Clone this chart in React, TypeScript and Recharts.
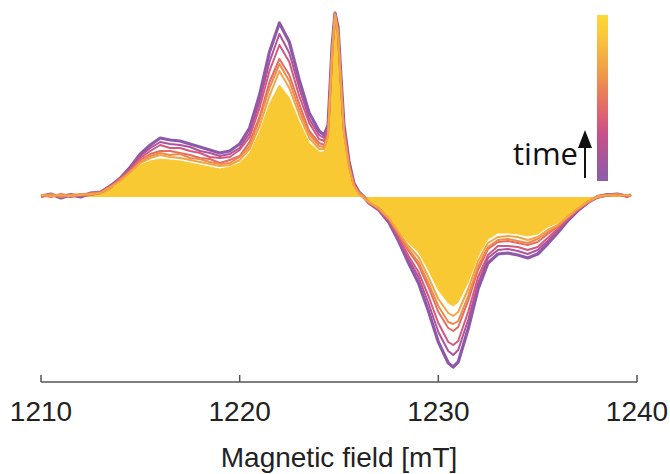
import React from 'react';
import { ComposedChart, Line, Area, XAxis, YAxis } from 'recharts';

// Field positions (mT) shared by every scan
const field = [
  1210, 1210.5, 1211, 1211.5, 1212, 1212.5, 1213, 1213.5, 1214, 1214.5,
  1215, 1215.5, 1216, 1216.5, 1217, 1217.5, 1218, 1218.5, 1219, 1219.5,
  1220, 1220.5, 1221, 1221.5, 1222, 1222.5, 1223, 1223.5, 1224, 1224.25,
  1224.45, 1224.65, 1224.8, 1224.95, 1225.1, 1225.25, 1225.5, 1225.75, 1226, 1226.25,
  1226.5, 1227, 1227.5, 1228, 1228.5, 1229, 1229.5, 1230, 1230.5, 1230.75,
  1231, 1231.5, 1232, 1232.5, 1233, 1233.5, 1234, 1234.5, 1235, 1235.5,
  1236, 1236.5, 1237, 1237.5, 1238, 1238.5, 1239, 1239.5, 1239.7,
];

// EPR signal, earliest scan first (a.u.)
const scan1 = [
  0.01, 0.03, -0.01, 0.02, 0.0, 0.04, 0.05, 0.11, 0.19, 0.3,
  0.43, 0.52, 0.59, 0.57, 0.56, 0.53, 0.5, 0.47, 0.44, 0.46,
  0.53, 0.69, 1.02, 1.45, 1.74, 1.55, 1.17, 0.84, 0.66, 0.62,
  0.72, 1.5, 1.84, 1.7, 1.2, 0.72, 0.36, 0.14, 0.05, 0.0,
  -0.06, -0.13, -0.25, -0.44, -0.66, -0.86, -1.14, -1.45, -1.66, -1.7,
  -1.65, -1.32, -0.92, -0.66, -0.57, -0.56, -0.58, -0.61, -0.57, -0.47,
  -0.36, -0.24, -0.14, -0.06, 0.0, 0.02, 0.03, 0.01, 0.02,
];
const scan2 = [
  0.02, 0.01, 0.02, 0.0, 0.02, 0.03, 0.05, 0.12, 0.18, 0.29,
  0.41, 0.49, 0.55, 0.53, 0.52, 0.5, 0.46, 0.44, 0.41, 0.43,
  0.49, 0.64, 0.95, 1.35, 1.63, 1.44, 1.09, 0.78, 0.62, 0.59,
  0.7, 1.48, 1.84, 1.69, 1.18, 0.7, 0.35, 0.14, 0.05, 0.01,
  -0.06, -0.12, -0.24, -0.42, -0.62, -0.8, -1.06, -1.35, -1.54, -1.58,
  -1.53, -1.23, -0.86, -0.61, -0.53, -0.52, -0.54, -0.57, -0.53, -0.44,
  -0.34, -0.23, -0.14, -0.06, 0.01, 0.03, 0.02, 0.02, 0.01,
];
const scan3 = [
  0.0, 0.02, 0.01, 0.03, 0.01, 0.02, 0.04, 0.1, 0.19, 0.27,
  0.39, 0.46, 0.52, 0.49, 0.49, 0.46, 0.44, 0.4, 0.39, 0.4,
  0.47, 0.6, 0.89, 1.26, 1.52, 1.35, 1.01, 0.74, 0.58, 0.56,
  0.68, 1.47, 1.83, 1.68, 1.16, 0.68, 0.34, 0.13, 0.04, -0.01,
  -0.05, -0.13, -0.23, -0.4, -0.59, -0.75, -0.99, -1.26, -1.45, -1.48,
  -1.44, -1.15, -0.8, -0.58, -0.49, -0.49, -0.5, -0.53, -0.5, -0.41,
  -0.32, -0.22, -0.13, -0.05, -0.01, 0.02, 0.03, 0.0, 0.02,
];
const scan4 = [
  0.02, 0.0, 0.03, 0.01, 0.02, 0.04, 0.05, 0.11, 0.17, 0.27,
  0.37, 0.43, 0.46, 0.46, 0.44, 0.42, 0.39, 0.38, 0.34, 0.37,
  0.41, 0.55, 0.8, 1.15, 1.38, 1.22, 0.93, 0.66, 0.54, 0.52,
  0.64, 1.45, 1.84, 1.66, 1.14, 0.66, 0.32, 0.12, 0.05, 0.0,
  -0.06, -0.11, -0.22, -0.38, -0.54, -0.68, -0.9, -1.15, -1.31, -1.34,
  -1.3, -1.04, -0.73, -0.52, -0.45, -0.44, -0.46, -0.48, -0.45, -0.37,
  -0.3, -0.21, -0.13, -0.06, 0.0, 0.01, 0.02, 0.02, 0.01,
];
const scan5 = [
  0.01, 0.03, 0.0, 0.02, 0.03, 0.02, 0.04, 0.09, 0.18, 0.25,
  0.35, 0.41, 0.44, 0.42, 0.43, 0.39, 0.38, 0.35, 0.33, 0.34,
  0.4, 0.51, 0.77, 1.09, 1.33, 1.16, 0.87, 0.63, 0.51, 0.5,
  0.63, 1.44, 1.83, 1.65, 1.13, 0.65, 0.31, 0.12, 0.04, 0.01,
  -0.05, -0.12, -0.21, -0.36, -0.52, -0.65, -0.86, -1.09, -1.25, -1.27,
  -1.24, -0.99, -0.69, -0.5, -0.43, -0.42, -0.44, -0.46, -0.42, -0.35,
  -0.29, -0.2, -0.12, -0.05, 0.01, 0.02, 0.03, 0.01, 0.02,
];
const scan6 = [
  0.02, 0.01, 0.02, 0.01, 0.02, 0.03, 0.04, 0.1, 0.16, 0.25,
  0.34, 0.39, 0.42, 0.4, 0.39, 0.37, 0.35, 0.33, 0.31, 0.32,
  0.37, 0.48, 0.71, 1.01, 1.26, 1.09, 0.82, 0.59, 0.48, 0.48,
  0.6, 1.42, 1.82, 1.64, 1.11, 0.63, 0.3, 0.11, 0.03, -0.01,
  -0.05, -0.11, -0.21, -0.35, -0.49, -0.6, -0.8, -1.02, -1.16, -1.19,
  -1.15, -0.92, -0.64, -0.46, -0.4, -0.39, -0.4, -0.43, -0.4, -0.33,
  -0.28, -0.2, -0.12, -0.05, 0.0, 0.02, 0.01, 0.02, 0.01,
];
// latest scan, drawn filled
const scan7 = [
  0.01, 0.02, 0.01, 0.02, 0.01, 0.03, 0.04, 0.09, 0.16, 0.24,
  0.32, 0.36, 0.38, 0.37, 0.36, 0.34, 0.32, 0.3, 0.28, 0.3,
  0.34, 0.44, 0.65, 0.93, 1.12, 0.99, 0.75, 0.54, 0.45, 0.45,
  0.58, 1.4, 1.83, 1.62, 1.09, 0.61, 0.28, 0.1, 0.03, 0.0,
  -0.05, -0.11, -0.2, -0.33, -0.46, -0.55, -0.73, -0.93, -1.06, -1.09,
  -1.05, -0.85, -0.59, -0.42, -0.36, -0.36, -0.37, -0.39, -0.37, -0.3,
  -0.26, -0.19, -0.12, -0.05, -0.01, 0.01, 0.02, 0.01, 0.01,
];

const fieldTicks = [1210, 1220, 1230, 1240];

const data = field.map((f, i) => ({
  field: f,
  s1: scan1[i],
  s2: scan2[i],
  s3: scan3[i],
  s4: scan4[i],
  s5: scan5[i],
  s6: scan6[i],
  s7: scan7[i],
}));

// purple (early) -> yellow (late)
const lineSeries = [
  { key: 's1', color: '#8d59a8', width: 3.2 },
  { key: 's2', color: '#b1529a', width: 2 },
  { key: 's3', color: '#d3597f', width: 2 },
  { key: 's4', color: '#e46d61', width: 2 },
  { key: 's5', color: '#ed8a4d', width: 2 },
  { key: 's6', color: '#f3a443', width: 2 },
];
const fillColor = '#f9c933';

const axisFont = "'Liberation Sans', Arial, sans-serif";
const W = 670;
const H = 474;

function FieldTick({ x, y, payload }: any) {
  return (
    <g>
      <line x1={x} x2={x} y1={y} y2={y - 7} stroke="#555" strokeWidth={1.5} />
      <text x={x} y={y + 39} textAnchor="middle" fontSize={28} fill="#222" fontFamily={axisFont}>
        {payload.value}
      </text>
    </g>
  );
}

export default function App() {
  // pinned to the page corner so the body margin does not offset the chart
  return (
    <div style={{ position: 'absolute', left: 0, top: 0, width: W, height: H }}>
      <ComposedChart
        width={W}
        height={H}
        data={data}
        margin={{ top: 8, right: 33, left: 41, bottom: 0 }}
        style={{ overflow: 'visible' }}
      >
        <XAxis
          dataKey="field"
          type="number"
          domain={[1210, 1240]}
          ticks={fieldTicks}
          height={92}
          tickSize={0}
          tickMargin={0}
          tick={<FieldTick />}
          axisLine={{ stroke: '#555', strokeWidth: 1.5 }}
          tickLine={false}
        />
        <YAxis hide type="number" domain={[-1.85, 1.89]} />
        {lineSeries.map((s) => (
          <Line
            key={s.key}
            dataKey={s.key}
            type="linear"
            stroke={s.color}
            strokeWidth={s.width}
            strokeLinejoin="round"
            dot={false}
            activeDot={false}
            isAnimationActive={false}
          />
        ))}
        <Area
          dataKey="s7"
          type="linear"
          baseValue={0}
          stroke={fillColor}
          strokeWidth={1}
          fill={fillColor}
          fillOpacity={1}
          dot={false}
          activeDot={false}
          isAnimationActive={false}
        />
      </ComposedChart>

      {/* colour bar, time arrow and axis title */}
      <svg
        width={W}
        height={H}
        style={{ position: 'absolute', left: 0, top: 0, pointerEvents: 'none' }}
      >
        <defs>
          <linearGradient id="timeBar" x1="0" y1="0" x2="0" y2="1">
            <stop offset="0%" stopColor="#fdd835" />
            <stop offset="12%" stopColor="#fbc73a" />
            <stop offset="35%" stopColor="#f19a48" />
            <stop offset="55%" stopColor="#e46a66" />
            <stop offset="72%" stopColor="#c94f8b" />
            <stop offset="86%" stopColor="#a6569a" />
            <stop offset="100%" stopColor="#8c5ca9" />
          </linearGradient>
        </defs>
        <rect x={597} y={15} width={11} height={166} fill="url(#timeBar)" />
        <text
          x={578}
          y={165}
          textAnchor="end"
          fontSize={31}
          fontFamily="'Open Sans', sans-serif"
          fill="#111"
        >
          time
        </text>
        <line x1={585} x2={585} y1={178} y2={142} stroke="#111" strokeWidth={2} />
        <polygon points="585,130 578,148 592,148" fill="#111" />
        <text
          x={339}
          y={467}
          textAnchor="middle"
          fontSize={28}
          fontFamily={axisFont}
          fill="#222"
        >
          Magnetic field [mT]
        </text>
      </svg>
    </div>
  );
}
